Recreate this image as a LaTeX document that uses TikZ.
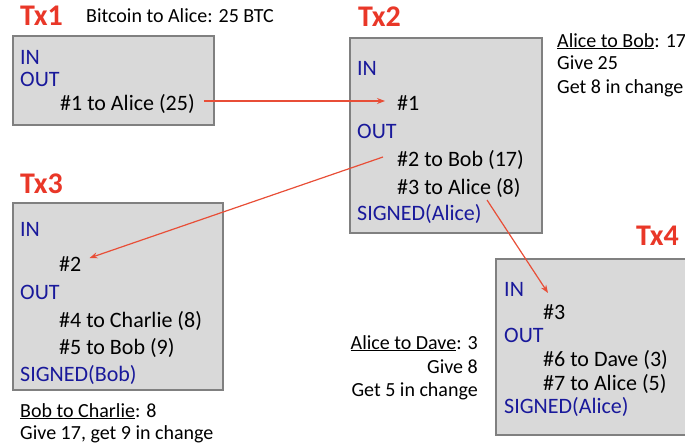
\documentclass[tikz,border=0pt]{standalone}
\usepackage{fontspec}
\setmainfont{Carlito}
\usetikzlibrary{arrows.meta,calc}
\definecolor{txred}{RGB}{233,55,40}
\definecolor{kwblue}{RGB}{25,25,155}
\definecolor{boxfill}{RGB}{217,217,217}
\definecolor{boxline}{RGB}{128,128,128}
\definecolor{arrred}{RGB}{232,78,55}
\begin{document}
\begin{tikzpicture}[x=1pt,y=-1pt,
  txlabel/.style={font=\fontsize{30}{34}\selectfont\bfseries, text=txred, inner sep=0pt, anchor=base west},
  kw/.style={font=\fontsize{22}{26}\selectfont, text=kwblue, anchor=base west, inner sep=0pt},
  item/.style={font=\fontsize{22}{26}\selectfont, anchor=base west, inner sep=0pt},
  note/.style={font=\fontsize{20}{24}\selectfont, inner sep=0pt, anchor=base west},
  noter/.style={note, anchor=base east},
  txbox/.style={draw=boxline, fill=boxfill, line width=1.5pt, anchor=north west, inner sep=0pt},
  link/.style={draw=arrred, line width=1.2pt, -{Stealth[length=8pt,width=6pt]}}]
\useasboundingbox (0,0) rectangle (685,447);
\clip (0,0) rectangle (685,447);

% boxes
\node[txbox, minimum width=201pt, minimum height=89pt] (box1) at (12,35) {};
\node[txbox, minimum width=192pt, minimum height=195pt] (box2) at (349,37) {};
\node[txbox, minimum width=210pt, minimum height=187pt] (box3) at (12,202) {};
\node[txbox, minimum width=200pt, minimum height=176pt] (box4) at (495,258) {};

% Tx1
\node[txlabel] (tx1) at (20,25) {Tx1};
\node[note] (n1) at (86,23) {Bitcoin to Alice: 25 BTC};
\node[kw] (t1in) at (20,64) {IN};
\node[kw] (t1out) at (20,86) {OUT};
\node[item] (t1o1) at (60,110) {\#1 to Alice (25)};

% Tx2
\node[txlabel] (tx2) at (358,26) {Tx2};
\node[kw] (t2in) at (357,75) {IN};
\node[item] (t2i1) at (397,110) {\#1};
\node[kw] (t2out) at (357,138) {OUT};
\node[item] (t2o2) at (397,166) {\#2 to Bob (17)};
\node[item] (t2o3) at (397,194) {\#3 to Alice (8)};
\node[kw] (t2sig) at (357,220) {SIGNED(Alice)};
\node[note] (n2a) at (557,47) {\underline{Alice to Bob}: 17};
\node[note] (n2b) at (557,69) {Give 25};
\node[note] (n2c) at (557,93) {Get 8 in change};

% Tx3
\node[txlabel] (tx3) at (20,193) {Tx3};
\node[kw] (t3in) at (20,236) {IN};
\node[item] (t3i2) at (59,271) {\#2};
\node[kw] (t3out) at (20,299) {OUT};
\node[item] (t3o4) at (59,327) {\#4 to Charlie (8)};
\node[item] (t3o5) at (59,354) {\#5 to Bob (9)};
\node[kw] (t3sig) at (20,381) {SIGNED(Bob)};
\node[note] (n3a) at (20,417) {\underline{Bob to Charlie}: 8};
\node[note] (n3b) at (20,439) {Give 17, get 9 in change};

% Tx4
\node[txlabel] (tx4) at (636,245) {Tx4};
\node[kw] (t4in) at (504,296) {IN};
\node[item] (t4i3) at (543,319) {\#3};
\node[kw] (t4out) at (504,342) {OUT};
\node[item] (t4o6) at (543,366) {\#6 to Dave (3)};
\node[item] (t4o7) at (543,390) {\#7 to Alice (5)};
\node[kw] (t4sig) at (504,413) {SIGNED(Alice)};
\node[noter] (n4a) at (478,349) {\underline{Alice to Dave}: 3};
\node[noter] (n4b) at (478,373) {Give 8};
\node[noter] (n4c) at (478,396) {Get 5 in change};

% connectors
\draw[link] ($(t1o1.base east)+(9,-9)$) -- ($(t2i1.base west)+(-12,-9)$);
\draw[link] ($(t2o2.base west)+(-14,-9)$) -- ($(t3i2.base east)+(8,-13)$);
\draw[link] ($(t2o3.base west)+(90,6)$) -- ($(t4i3.base west)+(5,-26)$);
\end{tikzpicture}
\end{document}
